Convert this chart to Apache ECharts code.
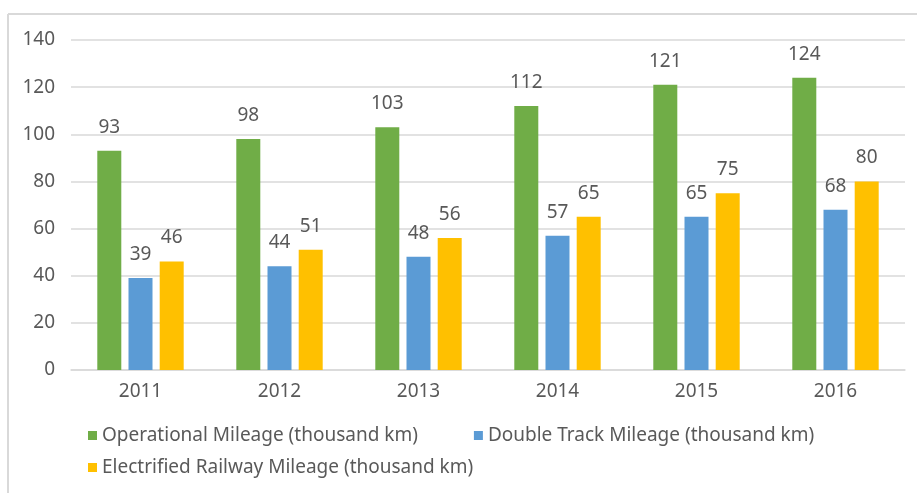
<!DOCTYPE html>
<html lang="en" style="height: 100%">
<head>
  <meta charset="utf-8">
</head>
<body style="height: 100%; margin: 0">
  <div id="container" style="height: 100%"></div>

<script type="text/javascript" src="https://cdn.jsdelivr.net/npm/echarts@6/dist/echarts.min.js"></script>

<script type="text/javascript">
var dom = document.getElementById('container');
var myChart = echarts.init(dom, null, { renderer: 'canvas' });

var years = ['2011', '2012', '2013', '2014', '2015', '2016'];
var operational = [93, 98, 103, 112, 121, 124];
var doubleTrack = [39, 44, 48, 57, 65, 68];
var electrified = [46, 51, 56, 65, 75, 80];

var names = [
  'Operational Mileage (thousand km)',
  'Double Track Mileage (thousand km)',
  'Electrified Railway Mileage (thousand km)'
];
var colors = ['#70AD47', '#5B9BD5', '#FFC000'];

var font = '"Noto Sans", sans-serif';
var textColor = '#595959';
var fs = 19;

function makeSeries(i, values) {
  return {
    name: names[i],
    type: 'bar',
    data: values,
    barWidth: 24,
    barGap: '30%',
    itemStyle: { color: colors[i] },
    label: {
      show: true,
      position: 'top',
      distance: 14,
      color: textColor,
      fontSize: fs,
      fontFamily: font
    }
  };
}

var legendText = { color: textColor, fontSize: fs, fontFamily: font };

var option = {
  animation: false,
  color: colors,
  graphic: [
    { type: 'line', shape: { x1: 8, y1: 14, x2: 917, y2: 14 }, style: { stroke: '#d9d9d9', lineWidth: 2 } },
    { type: 'line', shape: { x1: 8, y1: 14, x2: 8, y2: 493 }, style: { stroke: '#d9d9d9', lineWidth: 2 } }
  ],
  grid: { left: 71, right: 12, top: 40, bottom: 123, containLabel: false },
  legend: [
    {
      data: [names[0], names[1]],
      left: 83, top: 421,
      icon: 'rect', itemWidth: 9, itemHeight: 9, itemGap: 56,
      textStyle: legendText
    },
    {
      data: [names[2]],
      left: 83, top: 453,
      icon: 'rect', itemWidth: 9, itemHeight: 9,
      textStyle: legendText
    }
  ],
  xAxis: {
    type: 'category',
    data: years,
    axisTick: { show: false },
    axisLine: { lineStyle: { color: '#d9d9d9', width: 1.5 } },
    axisLabel: { color: textColor, fontSize: fs, fontFamily: font, margin: 12 }
  },
  yAxis: {
    type: 'value',
    min: 0,
    max: 140,
    interval: 20,
    axisLine: { show: false },
    axisTick: { show: false },
    splitLine: { lineStyle: { color: '#d9d9d9', width: 1.5 } },
    axisLabel: { color: textColor, fontSize: fs, fontFamily: font, margin: 16 }
  },
  series: [
    makeSeries(0, operational),
    makeSeries(1, doubleTrack),
    makeSeries(2, electrified)
  ]
};

myChart.setOption(option);
window.addEventListener('resize', myChart.resize);
</script>
</body>
</html>
